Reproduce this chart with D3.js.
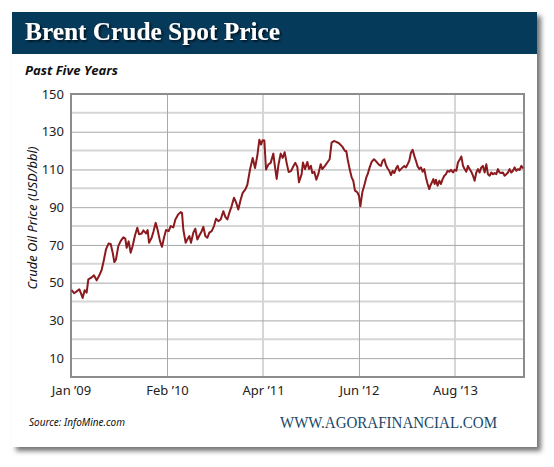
<!DOCTYPE html>
<html>
<head>
<meta charset="utf-8">
<script src="https://cdn.jsdelivr.net/npm/d3@7"></script>
<style>
    body { margin: 0; background: #fff; }
    svg { display: block; }
</style>
</head>
<body>
<div id="chart"></div>
<script>
// Months since Jan '09 (axis units) and Brent spot price
var months = [
    0.1, 0.44, 0.83, 1.22, 1.41, 1.70, 1.99, 2.28, 2.53, 3.01, 3.35, 3.74, 4.13, 4.47, 4.81, 5.10,
    5.49, 5.79, 6.08, 6.32, 6.56, 6.90, 7.24, 7.63, 7.92, 8.12, 8.41, 8.70, 8.99, 9.33, 9.67, 9.92,
    10.31, 10.55, 10.94, 11.18, 11.38, 11.76, 12.01, 12.35, 12.64, 12.98, 13.27, 13.56, 13.86, 14.24,
    14.54, 14.92, 15.22, 15.65, 15.99, 16.19, 16.38, 16.72, 17.02, 17.26, 17.50, 17.84, 18.13, 18.43,
    18.72, 19.06, 19.30, 19.59, 19.88, 20.18, 20.52, 20.86, 21.15, 21.49, 21.83, 22.22, 22.51, 22.80,
    23.09, 23.43, 23.77, 24.06, 24.40, 24.75, 25.04, 25.43, 25.72, 26.11, 26.50, 26.84, 27.18, 27.47,
    27.71, 27.95, 28.20, 28.44, 28.78, 29.12, 29.51, 29.75, 30.00, 30.24, 30.58, 30.87, 31.16, 31.45,
    31.75, 32.09, 32.43, 32.72, 33.01, 33.25, 33.64, 33.83, 34.13, 34.47, 34.71, 35.00, 35.19, 35.49,
    35.78, 36.07, 36.41, 36.65, 37.04, 37.38, 37.72, 38.01, 38.35, 38.70, 39.08, 39.57, 39.96, 40.15,
    40.35, 40.64, 40.93, 41.17, 41.42, 41.76, 42.00, 42.20, 42.49, 42.83, 43.07, 43.27, 43.56, 43.85,
    44.19, 44.43, 44.97, 45.21, 45.45, 45.70, 45.94, 46.18, 46.42, 46.67, 46.91, 47.15, 47.40, 47.64,
    47.88, 48.13, 48.37, 48.61, 48.86, 49.10, 49.34, 49.58, 49.83, 50.07, 50.31, 50.56, 50.80, 51.04,
    51.29, 51.53, 51.77, 52.01, 52.26, 52.40, 52.65, 52.84, 53.04, 53.23, 53.47, 53.72, 53.96, 54.20,
    54.45, 54.69, 54.93, 55.17, 55.42, 55.71, 55.95, 56.20, 56.44, 56.68, 56.93, 57.17, 57.41, 57.65,
    57.90, 58.14, 58.38, 58.63, 58.87, 59.11, 59.36, 59.60, 59.84, 60.08, 60.33, 60.57, 60.81, 61.06,
    61.30, 61.54, 61.79, 62.03, 62.27, 62.51, 62.76, 63.00, 63.24, 63.49, 63.73, 63.97, 64.22, 64.46,
    64.70, 64.95, 65.19, 65.43, 65.68, 65.92
];
var prices = [
    46.1, 44.4, 45.4, 46.5, 44.7, 41.9, 46.0, 44.7, 51.8, 52.8, 53.9, 51.2, 53.9, 56.7, 62.3, 67.6,
    70.8, 70.5, 65.9, 60.9, 62.3, 69.4, 72.0, 74.0, 73.3, 68.5, 71.9, 65.9, 69.4, 75.0, 79.1, 75.7,
    76.1, 77.7, 76.1, 77.9, 71.2, 73.8, 76.8, 81.7, 77.9, 72.0, 69.0, 73.8, 77.9, 77.3,
    80.0, 79.3, 83.5, 86.2, 87.4, 87.0, 78.2, 71.2, 73.3, 74.7, 71.2, 76.5, 78.6, 72.9,
    75.0, 77.3, 79.6, 74.7, 73.8, 76.5, 77.3, 80.0, 83.9, 82.6, 83.5, 87.9, 84.9, 83.5,
    87.0, 90.6, 95.0, 92.7, 88.8, 94.1, 97.6, 99.4, 101.9, 110.0, 116.1, 110.8, 117.4, 125.8,
    123.2, 125.5, 125.3, 110.0, 112.6, 113.5, 118.4, 111.4, 105.0, 112.1, 118.4, 116.1, 119.1, 113.5,
    108.6, 109.1, 111.7, 113.5, 111.4, 103.2, 107.5, 113.7, 110.2, 114.0, 110.2, 111.9, 108.1, 108.8,
    104.6, 107.5, 112.8, 110.2, 111.9, 113.7, 115.4, 124.2, 125.1, 124.6, 123.9, 122.1, 119.8, 119.8,
    115.4, 110.2, 105.8, 104.0, 98.8, 97.9, 96.1, 90.5, 97.9, 102.3, 105.8, 107.5, 111.1, 114.0,
    115.4, 114.6, 112.3, 111.9, 114.6, 115.4, 112.3, 110.5, 109.3, 107.0, 109.3, 108.1, 110.5, 111.9,
    109.3, 110.2, 111.1, 111.9, 111.1, 112.8, 114.6, 118.9, 120.4, 117.2, 114.6, 111.6, 110.2, 111.1,
    108.8, 110.2, 105.8, 102.3, 99.6, 101.4, 103.2, 104.9, 102.3, 104.6, 101.4, 104.0, 102.3, 104.9,
    106.7, 107.5, 109.3, 108.8, 109.8, 108.4, 109.8, 109.3, 113.7, 115.1, 116.9, 112.0, 110.2, 108.8,
    111.9, 110.2, 108.8, 106.7, 104.0, 108.4, 110.2, 108.4, 111.1, 111.9, 108.4, 112.8, 107.5, 106.7,
    108.4, 107.5, 108.1, 107.5, 110.2, 108.4, 108.1, 108.4, 106.7, 107.5, 108.4, 110.2, 108.4, 109.3,
    111.1, 109.3, 110.2, 109.8, 111.9, 110.5
];

// Axis ticks
var yTickValues = [10, 30, 50, 70, 90, 110, 130, 150];
var yMinorValues = [20, 40, 60, 80, 100, 120, 140];
var xTickMonths = [0, 14, 28, 42, 56];
var xTickLabels = ['Jan \u201909', 'Feb \u201910', 'Apr \u201911', 'Jun \u201912', 'Aug \u201913'];

var width = 554, height = 467;
var plot = {left: 71, right: 524, top: 94, bottom: 377};

var svg = d3.select('#chart').append('svg')
    .attr('width', width)
    .attr('height', height);

var defs = svg.append('defs');
var cardShadow = defs.append('filter').attr('id', 'cardShadow')
    .attr('x', '-5%').attr('y', '-5%').attr('width', '115%').attr('height', '115%');
cardShadow.append('feDropShadow')
    .attr('dx', 4).attr('dy', 4).attr('stdDeviation', 2.5)
    .attr('flood-color', '#000').attr('flood-opacity', 0.55);

var titleShadow = defs.append('filter').attr('id', 'titleShadow');
titleShadow.append('feDropShadow')
    .attr('dx', 1.5).attr('dy', 1.5).attr('stdDeviation', 0.8)
    .attr('flood-color', '#000').attr('flood-opacity', 0.8);

// Card + header band
svg.append('rect')
    .attr('x', 12).attr('y', 12).attr('width', 525).attr('height', 435)
    .attr('fill', '#fff')
    .attr('filter', 'url(#cardShadow)');

svg.append('rect')
    .attr('x', 12).attr('y', 12).attr('width', 525).attr('height', 42)
    .attr('fill', '#063a5b');

svg.append('text')
    .attr('x', 25).attr('y', 40)
    .attr('font-family', '"Liberation Serif", "Times New Roman", serif')
    .attr('font-weight', 'bold')
    .attr('font-size', 26)
    .attr('fill', '#fff')
    .attr('textLength', 255)
    .attr('lengthAdjust', 'spacingAndGlyphs')
    .attr('filter', 'url(#titleShadow)')
    .text('Brent Crude Spot Price');

svg.append('text')
    .attr('x', 25).attr('y', 75)
    .attr('font-family', '"Open Sans", "Noto Sans", sans-serif')
    .attr('font-weight', 'bold')
    .attr('font-style', 'italic')
    .attr('font-size', 13)
    .attr('fill', '#111')
    .attr('textLength', 93)
    .attr('lengthAdjust', 'spacingAndGlyphs')
    .text('Past Five Years');

// Scales
var xScale = d3.scaleLinear().domain([0, 66.07]).range([plot.left, plot.right]);
var yScale = d3.scaleLinear().domain([0, 150]).range([plot.bottom, plot.top]);

var g = svg.append('g');

// Light (unlabelled) grid lines
g.selectAll('.minor-y').data(yMinorValues).enter().append('line')
    .attr('x1', plot.left).attr('x2', plot.right)
    .attr('y1', (d) => yScale(d)).attr('y2', (d) => yScale(d))
    .attr('stroke', '#d6d6d6').attr('stroke-width', 2);

g.selectAll('.minor-x').data(xTickMonths.filter((d, i) => i % 2 === 0 && i > 0)).enter().append('line')
    .attr('x1', (d) => xScale(d)).attr('x2', (d) => xScale(d))
    .attr('y1', plot.top).attr('y2', plot.bottom)
    .attr('stroke', '#d6d6d6').attr('stroke-width', 2);

// Darker grid lines at labelled values
g.selectAll('.major-y').data(yTickValues).enter().append('line')
    .attr('x1', plot.left).attr('x2', plot.right)
    .attr('y1', (d) => yScale(d) + 0.5).attr('y2', (d) => yScale(d) + 0.5)
    .attr('stroke', '#a8a8a8').attr('stroke-width', 1);

g.selectAll('.major-x').data(xTickMonths.filter((d, i) => i % 2 === 1)).enter().append('line')
    .attr('x1', (d) => xScale(d) + 0.5).attr('x2', (d) => xScale(d) + 0.5)
    .attr('y1', plot.top).attr('y2', plot.bottom)
    .attr('stroke', '#a8a8a8').attr('stroke-width', 1);

// Axes (labels only, the frame is drawn separately)
var yAxis = d3.axisLeft(yScale).tickValues(yTickValues).tickSize(0).tickPadding(7);
var gY = g.append('g').attr('transform', `translate(${plot.left},0)`).call(yAxis);

var xAxis = d3.axisBottom(xScale).tickValues(xTickMonths).tickSize(0).tickPadding(9)
    .tickFormat((d, i) => xTickLabels[i]);
var gX = g.append('g').attr('transform', `translate(0,${plot.bottom})`).call(xAxis);

[gX, gY].forEach((ax) => {
    ax.select('.domain').remove();
    ax.selectAll('text')
        .attr('font-family', '"Noto Sans", "Open Sans", sans-serif')
        .attr('font-size', 13)
        .attr('fill', '#222');
});

// Plot frame
g.append('rect')
    .attr('x', plot.left).attr('y', plot.top)
    .attr('width', plot.right - plot.left).attr('height', plot.bottom - plot.top)
    .attr('fill', 'none')
    .attr('stroke', '#8c8c8c').attr('stroke-width', 2);

// Price line
var line = d3.line()
    .x((d, i) => xScale(months[i]))
    .y((d) => yScale(d));

g.append('path')
    .datum(prices)
    .attr('d', line)
    .attr('fill', 'none')
    .attr('stroke', '#8b1a1e')
    .attr('stroke-width', 2)
    .attr('stroke-linejoin', 'round');

// Y axis title
svg.append('text')
    .attr('transform', 'translate(37,218) rotate(-90)')
    .attr('text-anchor', 'middle')
    .attr('font-family', '"Noto Sans", "Open Sans", sans-serif')
    .attr('font-style', 'italic')
    .attr('font-size', 12.5)
    .attr('fill', '#111')
    .attr('textLength', 143)
    .attr('lengthAdjust', 'spacingAndGlyphs')
    .text('Crude Oil Price (USD/bbl)');

// Footer
svg.append('text')
    .attr('x', 29).attr('y', 426)
    .attr('font-family', '"Noto Sans", "Open Sans", sans-serif')
    .attr('font-style', 'italic')
    .attr('font-size', 11)
    .attr('fill', '#111')
    .attr('textLength', 96)
    .attr('lengthAdjust', 'spacingAndGlyphs')
    .text('Source: InfoMine.com');

svg.append('text')
    .attr('x', 280).attr('y', 428)
    .attr('font-family', '"Liberation Serif", "Times New Roman", serif')
    .attr('font-size', 16)
    .attr('fill', '#1a4868')
    .attr('textLength', 217)
    .attr('lengthAdjust', 'spacingAndGlyphs')
    .text('WWW.AGORAFINANCIAL.COM');
</script>
</body>
</html>
